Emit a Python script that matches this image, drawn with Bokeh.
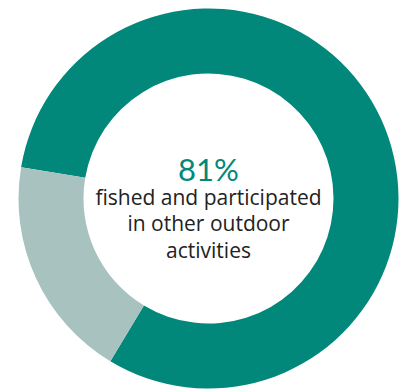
import math
from bokeh.plotting import figure
from bokeh.models import Range1d, ColumnDataSource
from bokeh.core.properties import value
from bokeh.embed import file_html
from bokeh.resources import INLINE

categories = ["fished and participated in other outdoor activities", "other"]
shares = [81, 19]
colors = ["#02887A", "#A8C2BF"]
headline = "81%"
caption_lines = ["fished and participated", "in other outdoor", "activities"]

W, H = 405, 390
cx, cy = 208, H - 198
r_out, r_in = 190, 125

# light segment begins at ~170.5 deg and runs counter-clockwise; dark fills the rest
total = sum(shares)
start_light = math.radians(170.5)
light_span = 2 * math.pi * shares[1] / total
starts = [start_light + light_span, start_light]
ends = [start_light + 2 * math.pi, start_light + light_span]

src = ColumnDataSource(dict(cat=categories, start=starts, end=ends, color=colors,
                            x=[cx, cx], y=[cy, cy]))

p = figure(width=W, height=H, x_range=Range1d(0, W), y_range=Range1d(0, H),
           output_backend="svg", toolbar_location=None, min_border=0)
p.axis.visible = False
p.grid.visible = False
p.outline_line_color = None
p.background_fill_color = "white"

p.annular_wedge(x="x", y="y", inner_radius=r_in, outer_radius=r_out,
                start_angle="start", end_angle="end", color="color",
                line_color=None, source=src)

p.text(x=[cx], y=[H - 168], text=[headline], text_font=value("Lato"),
       text_font_size="31px", text_color=colors[0], text_align="center",
       text_baseline="alphabetic")
ys = [H - 196, H - 222, H - 249]
p.text(x=[cx] * 3, y=ys, text=caption_lines, text_font=value("Open Sans"),
       text_font_size="21px", text_color="#222222", text_align="center",
       text_baseline="alphabetic")

open("out.html", "w").write(file_html(p, INLINE))
